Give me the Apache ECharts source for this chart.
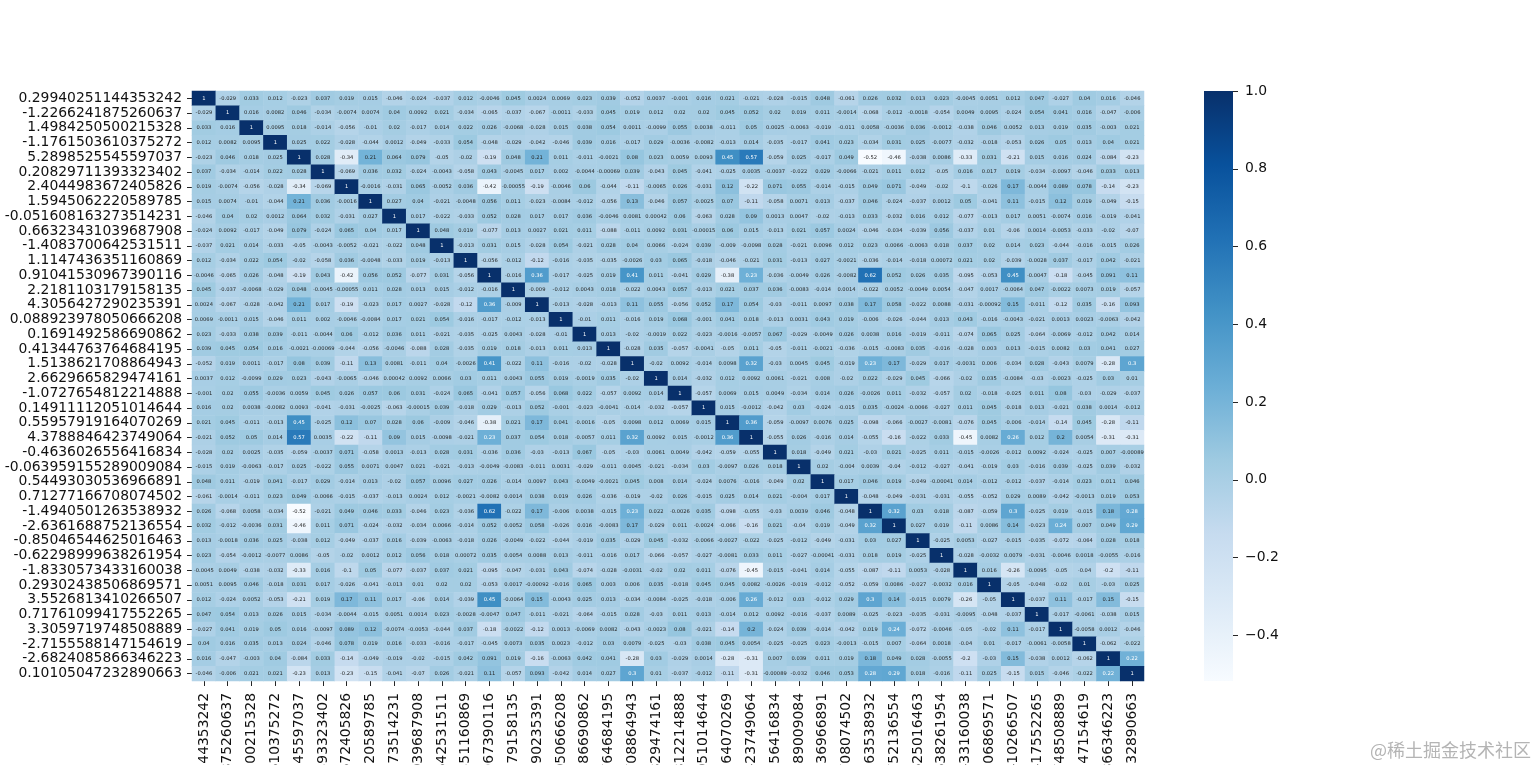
<!DOCTYPE html>
<html>
<head>
<meta charset="utf-8">
<title>heatmap</title>
<script src="https://cdn.jsdelivr.net/npm/echarts@6/dist/echarts.min.js"></script>
<style>
  html, body { margin: 0; padding: 0; background: #fff; overflow: hidden; }
  #main { width: 1536px; height: 765px; }
</style>
</head>
<body>
<div id="main"></div>
<script>
// row and column labels
var labels = ['0.29940251144353242','-1.2266241875260637','1.4984250500215328','-1.1761503610375272','5.2898525545597037','0.20829711393323402','2.4044983672405826','1.5945062220589785','-0.051608163273514231','0.66323431039687908','-1.4083700642531511','1.1147436351160869','0.91041530967390116','2.2181103179158135','4.3056427290235391','0.088923978050666208','0.1691492586690862','0.41344763764684195','1.5138621708864943','2.6629665829474161','-1.0727654812214888','0.14911112051014644','0.55957919164070269','4.3788846423749064','-0.4636026556416834','-0.063959155289009084','0.54493030536966891','0.71277166708074502','-1.4940501263538932','-2.6361688752136554','-0.85046544625016463','-0.62298999638261954','-1.8330573433160038','0.29302438506869571','3.5526813410266507','0.71761099417552265','3.3059719748508889','-2.7155588147154619','-2.6824085866346223','0.10105047232890663'];

// correlation matrix is symmetric, so each row starts at its diagonal cell
var row01 = [1,-0.029,0.033,0.012,-0.023,0.037,0.019,0.015,-0.046,-0.024,-0.037,0.012,-0.0046,0.045,0.0024,0.0069,0.023,0.039,-0.052,0.0037,-0.001,0.016,0.021,-0.021,-0.028,-0.015,0.048,-0.061,0.026,0.032,0.013,0.023,-0.0045,0.0051,0.012,0.047,-0.027,0.04,0.016,-0.046];
var row02 = [1,0.016,0.0082,0.046,-0.034,-0.0074,0.0074,0.04,0.0092,0.021,-0.034,-0.065,-0.037,-0.067,-0.0011,-0.033,0.045,0.019,0.012,0.02,0.02,0.045,0.052,0.02,0.019,0.011,-0.0014,-0.068,-0.012,-0.0018,-0.054,0.0049,0.0095,-0.024,0.054,0.041,0.016,-0.047,-0.006];
var row03 = [1,0.0095,0.018,-0.014,-0.056,-0.01,0.02,-0.017,0.014,0.022,0.026,-0.0068,-0.028,0.015,0.038,0.054,0.0011,-0.0099,0.055,0.0038,-0.011,0.05,0.0025,-0.0063,-0.019,-0.011,0.0058,-0.0036,0.036,-0.0012,-0.038,0.046,0.0052,0.013,0.019,0.035,-0.003,0.021];
var row04 = [1,0.025,0.022,-0.028,-0.044,0.0012,-0.049,-0.033,0.054,-0.048,-0.029,-0.042,-0.046,0.039,0.016,-0.017,0.029,-0.0036,-0.0082,-0.013,0.014,-0.035,-0.017,0.041,0.023,-0.034,0.031,0.025,-0.0077,-0.032,-0.018,-0.053,0.026,0.05,0.013,0.04,0.021];
var row05 = [1,0.028,-0.34,0.21,0.064,0.079,-0.05,-0.02,-0.19,0.048,0.21,0.011,-0.011,-0.0021,0.08,0.023,0.0059,0.0093,0.45,0.57,-0.059,0.025,-0.017,0.049,-0.52,-0.46,-0.038,0.0086,-0.33,0.031,-0.21,0.015,0.016,0.024,-0.084,-0.23];
var row06 = [1,-0.069,0.036,0.032,-0.024,-0.0043,-0.058,0.043,-0.0045,0.017,0.002,-0.0044,-0.00069,0.039,-0.043,0.045,-0.041,-0.025,0.0035,-0.0037,-0.022,0.029,-0.0066,-0.021,0.011,0.012,-0.05,0.016,0.017,0.019,-0.034,-0.0097,-0.046,0.033,0.013];
var row07 = [1,-0.0016,-0.031,0.065,-0.0052,0.036,-0.42,-0.00055,-0.19,-0.0046,0.06,-0.044,-0.11,-0.0065,0.026,-0.031,0.12,-0.22,0.071,0.055,-0.014,-0.015,0.049,0.071,-0.049,-0.02,-0.1,-0.026,0.17,-0.0044,0.089,0.078,-0.14,-0.23];
var row08 = [1,0.027,0.04,-0.021,-0.0048,0.056,0.011,-0.023,-0.0084,-0.012,-0.056,0.13,-0.046,0.057,-0.0025,0.07,-0.11,-0.058,0.0071,0.013,-0.037,0.046,-0.024,-0.037,0.0012,0.05,-0.041,0.11,-0.015,0.12,0.019,-0.049,-0.15];
var row09 = [1,0.017,-0.022,-0.033,0.052,0.028,0.017,0.017,0.036,-0.0046,0.0081,0.00042,0.06,-0.063,0.028,0.09,0.0013,0.0047,-0.02,-0.013,0.033,-0.032,0.016,0.012,-0.077,-0.013,0.017,0.0051,-0.0074,0.016,-0.019,-0.041];
var row10 = [1,0.048,0.019,-0.077,0.013,0.0027,0.021,0.011,-0.088,-0.011,0.0092,0.031,-0.00015,0.06,0.015,-0.013,0.021,0.057,0.0024,-0.046,-0.034,-0.039,0.056,-0.037,0.01,-0.06,0.0014,-0.0053,-0.033,-0.02,-0.07];
var row11 = [1,-0.013,0.031,0.015,-0.028,0.054,-0.021,0.028,0.04,0.0066,-0.024,0.039,-0.009,-0.0098,0.028,-0.021,0.0096,0.012,0.023,0.0066,-0.0063,0.018,0.037,0.02,0.014,0.023,-0.044,-0.016,-0.015,0.026];
var row12 = [1,-0.056,-0.012,-0.12,-0.016,-0.035,-0.035,-0.0026,0.03,0.065,-0.018,-0.046,-0.021,0.031,-0.013,0.027,-0.0021,-0.036,-0.014,-0.018,0.00072,0.021,0.02,-0.039,-0.0028,0.037,-0.017,0.042,-0.021];
var row13 = [1,-0.016,0.36,-0.017,-0.025,0.019,0.41,0.011,-0.041,0.029,-0.38,0.23,-0.036,-0.0049,0.026,-0.0082,0.62,0.052,0.026,0.035,-0.095,-0.053,0.45,-0.0047,-0.18,-0.045,0.091,0.11];
var row14 = [1,-0.009,-0.012,0.0043,0.018,-0.022,0.0043,0.057,-0.013,0.021,0.037,0.036,-0.0083,-0.014,0.0014,-0.022,0.0052,-0.0049,0.0054,-0.047,0.0017,-0.0064,0.047,-0.0022,0.0073,0.019,-0.057];
var row15 = [1,-0.013,-0.028,-0.013,0.11,0.055,-0.056,0.052,0.17,0.054,-0.03,-0.011,0.0097,0.038,0.17,0.058,-0.022,0.0088,-0.031,-0.00092,0.15,-0.011,-0.12,0.035,-0.16,0.093];
var row16 = [1,-0.01,0.011,-0.016,0.019,0.068,-0.001,0.041,0.018,-0.013,0.0031,0.043,0.019,-0.006,-0.026,-0.044,0.013,0.043,-0.016,-0.0043,-0.021,0.0013,0.0023,-0.0063,-0.042];
var row17 = [1,0.013,-0.02,-0.0019,0.022,-0.023,-0.0016,-0.0057,0.067,-0.029,-0.0049,0.026,0.0038,0.016,-0.019,-0.011,-0.074,0.065,0.025,-0.064,-0.0069,-0.012,0.042,0.014];
var row18 = [1,-0.028,0.035,-0.057,-0.0041,-0.05,0.011,-0.05,-0.011,-0.0021,-0.036,-0.015,-0.0083,0.035,-0.016,-0.028,0.003,0.013,-0.015,0.0082,0.03,0.041,0.027];
var row19 = [1,-0.02,0.0092,-0.014,0.0098,0.32,-0.03,0.0045,0.045,-0.019,0.23,0.17,-0.029,0.017,-0.0031,0.006,-0.034,0.028,-0.043,0.0079,-0.28,0.3];
var row20 = [1,0.014,-0.032,0.012,0.0092,0.0061,-0.021,0.008,-0.02,0.022,-0.029,0.045,-0.066,-0.02,0.035,-0.0084,-0.03,-0.0023,-0.025,0.03,0.01];
var row21 = [1,-0.057,0.0069,0.015,0.0049,-0.034,0.014,0.026,-0.0026,0.011,-0.032,-0.057,0.02,-0.018,-0.025,0.011,0.08,-0.03,-0.029,-0.037];
var row22 = [1,0.015,-0.0012,-0.042,0.03,-0.024,-0.015,0.035,-0.0024,-0.0066,-0.027,0.011,0.045,-0.018,0.013,-0.021,0.038,0.0014,-0.012];
var row23 = [1,0.36,-0.059,-0.0097,0.0076,0.025,-0.098,-0.066,-0.0027,-0.0081,-0.076,0.045,-0.006,-0.014,-0.14,0.045,-0.28,-0.11];
var row24 = [1,-0.055,0.026,-0.016,0.014,-0.055,-0.16,-0.022,0.033,-0.45,0.0082,0.26,0.012,0.2,0.0054,-0.31,-0.31];
var row25 = [1,0.018,-0.049,0.021,-0.03,0.021,-0.025,0.011,-0.015,-0.0026,-0.012,0.0092,-0.024,-0.025,0.007,-0.00089];
var row26 = [1,0.02,-0.004,0.0039,-0.04,-0.012,-0.027,-0.041,-0.019,0.03,-0.016,0.039,-0.025,0.039,-0.032];
var row27 = [1,0.017,0.046,0.019,-0.049,-0.00041,0.014,-0.012,-0.012,-0.037,-0.014,0.023,0.011,0.046];
var row28 = [1,-0.048,-0.049,-0.031,-0.031,-0.055,-0.052,0.029,0.0089,-0.042,-0.0013,0.019,0.053];
var row29 = [1,0.32,0.03,0.018,-0.087,-0.059,0.3,-0.025,0.019,-0.015,0.18,0.28];
var row30 = [1,0.027,0.019,-0.11,0.0086,0.14,-0.023,0.24,0.007,0.049,0.29];
var row31 = [1,-0.025,0.0053,-0.027,-0.015,-0.035,-0.072,-0.064,0.028,0.018];
var row32 = [1,-0.028,-0.0032,0.0079,-0.031,-0.0046,0.0018,-0.0055,-0.016];
var row33 = [1,0.016,-0.26,-0.0095,-0.05,-0.04,-0.2,-0.11];
var row34 = [1,-0.05,-0.048,-0.02,0.01,-0.03,0.025];
var row35 = [1,-0.037,0.11,-0.017,0.15,-0.15];
var row36 = [1,-0.017,-0.0061,-0.038,0.015];
var row37 = [1,-0.0058,0.0012,-0.046];
var row38 = [1,-0.062,-0.022];
var row39 = [1,0.22];
var row40 = [1];

var upperRows = [row01,row02,row03,row04,row05,row06,row07,row08,row09,row10,row11,row12,row13,row14,row15,row16,row17,row18,row19,row20,row21,row22,row23,row24,row25,row26,row27,row28,row29,row30,row31,row32,row33,row34,row35,row36,row37,row38,row39,row40];

// colour bar
var colorTicks = [-0.4,-0.2,0,0.2,0.4,0.6,0.8,1];
var colorMin = -0.518;
var colorMax = 1;
var blues = ['#f7fbff','#deebf7','#c6dbef','#9ecae1','#6baed6','#4292c6','#2171b5','#08519c','#08306b'];

var font = 'DejaVu Sans';
var cells = [];
upperRows.forEach(function (row, i) {
  row.forEach(function (v, k) {
    var j = i + k;
    // seaborn switches annotation colour on dark cells
    var label = { color: v >= 0.22 ? '#ffffff' : '#262626' };
    cells.push({ value: [j, i, v], label: label });
    if (j !== i) cells.push({ value: [i, j, v], label: label });
  });
});

// top of the bar is the dark end
var barStops = blues.map(function (c, i) {
  return { offset: 1 - i / (blues.length - 1), color: c };
}).reverse();

var tickLine = { color: '#262626', width: 1 };
var noLine = { show: true, lineStyle: { color: 'transparent', width: 0 } };

var myChart = echarts.init(document.getElementById('main'));
myChart.setOption({
  animation: false,
  backgroundColor: '#ffffff',
  grid: [
    // labels run off the bottom of the picture on purpose
    { left: 192, top: 91, width: 952, height: 590, outerBoundsMode: 'none' },
    { left: 1204, top: 91, width: 29, height: 590, outerBoundsMode: 'none' }
  ],
  xAxis: [
    {
      type: 'category',
      gridIndex: 0,
      position: 'bottom',
      data: labels,
      axisLine: noLine,
      axisTick: { show: true, alignWithLabel: true, length: 5, lineStyle: tickLine },
      axisLabel: { interval: 0, rotate: 90, margin: 12, fontSize: 13.9, fontFamily: font, color: '#111111' },
      splitLine: { show: false }
    },
    { type: 'value', gridIndex: 1, show: false, min: 0, max: 1 }
  ],
  yAxis: [
    {
      type: 'category',
      gridIndex: 0,
      inverse: true,
      data: labels,
      axisLine: noLine,
      axisTick: { show: true, alignWithLabel: true, length: 5, lineStyle: tickLine },
      axisLabel: { interval: 0, margin: 10, fontSize: 13.9, fontFamily: font, color: '#111111' },
      splitLine: { show: false }
    },
    {
      type: 'value',
      gridIndex: 1,
      position: 'right',
      min: colorMin,
      max: colorMax,
      axisLine: { show: false },
      splitLine: { show: false },
      axisTick: { show: false },
      axisLabel: {
        margin: 12,
        fontSize: 13.9,
        fontFamily: font,
        color: '#111111',
        customValues: colorTicks,
        formatter: function (v) { return v.toFixed(1).replace('-', '\u2212'); }
      }
    }
  ],
  visualMap: {
    type: 'continuous',
    show: false,
    seriesIndex: 0,
    min: colorMin,
    max: colorMax,
    dimension: 2,
    inRange: { color: blues }
  },
  series: [
    {
      type: 'heatmap',
      xAxisIndex: 0,
      yAxisIndex: 0,
      data: cells,
      progressive: 0,
      itemStyle: { borderWidth: 0 },
      label: {
        show: true,
        fontSize: 5.2,
        fontFamily: font,
        textBorderWidth: 0,
        formatter: function (p) { return String(p.value[2]); }
      },
      emphasis: { disabled: true }
    },
    {
      // visualMap's own bar has rounded corners, so the colour bar is drawn here
      type: 'custom',
      xAxisIndex: 1,
      yAxisIndex: 1,
      silent: true,
      data: [[0, colorMin, 1, colorMax]],
      encode: { x: [0, 2], y: [1, 3] },
      renderItem: function (params, api) {
        var p0 = api.coord([api.value(0), api.value(3)]);
        var p1 = api.coord([api.value(2), api.value(1)]);
        return {
          type: 'rect',
          shape: { x: p0[0], y: p0[1], width: p1[0] - p0[0], height: p1[1] - p0[1] },
          style: { fill: new echarts.graphic.LinearGradient(0, 0, 0, 1, barStops) }
        };
      }
    },
    {
      // colour bar ticks, axisTick.customValues did not draw them
      type: 'custom',
      xAxisIndex: 1,
      yAxisIndex: 1,
      silent: true,
      clip: false,
      data: colorTicks.map(function (t) { return [1, t]; }),
      encode: { x: 0, y: 1 },
      renderItem: function (params, api) {
        var p = api.coord([api.value(0), api.value(1)]);
        var y = Math.round(p[1]) + 0.5;
        return {
          type: 'line',
          shape: { x1: p[0], y1: y, x2: p[0] + 5, y2: y },
          style: { stroke: tickLine.color, lineWidth: tickLine.width }
        };
      }
    }
  ],
  graphic: [{
    type: 'text',
    left: 1370,
    top: 741,
    style: { text: '@稀土掘金技术社区', font: '18px "Noto Sans CJK SC"', fill: '#b4b4b4' }
  }]
});
</script>
</body>
</html>
